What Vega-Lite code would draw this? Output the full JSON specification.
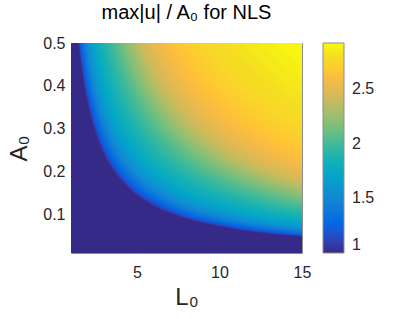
{
"$schema": "https://vega.github.io/schema/vega-lite/v6.json",
"width": 231, "height": 210,
"autosize": {"type": "none"},
"padding": {"left": 71, "top": 43, "right": 97, "bottom": 66},
"background": "white",
"title": {"text": "max|u| / A₀ for NLS", "fontSize": 20, "fontWeight": "normal", "font": "Liberation Sans", "color": "#000000", "anchor": "middle", "offset": -4, "baseline": "alphabetic"},
"data": {"values": [
{"v":1,"L":1,"A":0.01},{"v":1,"L":15,"A":0.01},
{"v":1.05,"L":1.44,"A":0.5},{"v":1.05,"L":1.728,"A":0.4167},{"v":1.05,"L":2.16,"A":0.3333},{"v":1.05,"L":2.88,"A":0.25},{"v":1.05,"L":3.6,"A":0.2},{"v":1.05,"L":4.32,"A":0.1667},{"v":1.05,"L":5.76,"A":0.125},{"v":1.05,"L":7.2,"A":0.1},{"v":1.05,"L":10.08,"A":0.0714},{"v":1.05,"L":14.4,"A":0.05},{"v":1.05,"L":15,"A":0.048},
{"v":1.1,"L":1.47,"A":0.5},{"v":1.1,"L":1.764,"A":0.4167},{"v":1.1,"L":2.205,"A":0.3333},{"v":1.1,"L":2.94,"A":0.25},{"v":1.1,"L":3.675,"A":0.2},{"v":1.1,"L":4.41,"A":0.1667},{"v":1.1,"L":5.88,"A":0.125},{"v":1.1,"L":7.35,"A":0.1},{"v":1.1,"L":10.29,"A":0.0714},{"v":1.1,"L":14.7,"A":0.05},{"v":1.1,"L":15,"A":0.049},
{"v":1.15,"L":1.5,"A":0.5},{"v":1.15,"L":1.8,"A":0.4167},{"v":1.15,"L":2.25,"A":0.3333},{"v":1.15,"L":3,"A":0.25},{"v":1.15,"L":3.75,"A":0.2},{"v":1.15,"L":4.5,"A":0.1667},{"v":1.15,"L":6,"A":0.125},{"v":1.15,"L":7.5,"A":0.1},{"v":1.15,"L":10.5,"A":0.0714},{"v":1.15,"L":15,"A":0.05},
{"v":1.2,"L":1.54,"A":0.5},{"v":1.2,"L":1.848,"A":0.4167},{"v":1.2,"L":2.31,"A":0.3333},{"v":1.2,"L":3.08,"A":0.25},{"v":1.2,"L":3.85,"A":0.2},{"v":1.2,"L":4.62,"A":0.1667},{"v":1.2,"L":6.16,"A":0.125},{"v":1.2,"L":7.7,"A":0.1},{"v":1.2,"L":10.78,"A":0.0714},{"v":1.2,"L":15,"A":0.0513},
{"v":1.25,"L":1.58,"A":0.5},{"v":1.25,"L":1.896,"A":0.4167},{"v":1.25,"L":2.37,"A":0.3333},{"v":1.25,"L":3.16,"A":0.25},{"v":1.25,"L":3.95,"A":0.2},{"v":1.25,"L":4.74,"A":0.1667},{"v":1.25,"L":6.32,"A":0.125},{"v":1.25,"L":7.9,"A":0.1},{"v":1.25,"L":11.06,"A":0.0714},{"v":1.25,"L":15,"A":0.0527},
{"v":1.3,"L":1.63,"A":0.5},{"v":1.3,"L":1.956,"A":0.4167},{"v":1.3,"L":2.445,"A":0.3333},{"v":1.3,"L":3.26,"A":0.25},{"v":1.3,"L":4.075,"A":0.2},{"v":1.3,"L":4.89,"A":0.1667},{"v":1.3,"L":6.52,"A":0.125},{"v":1.3,"L":8.15,"A":0.1},{"v":1.3,"L":11.41,"A":0.0714},{"v":1.3,"L":15,"A":0.0543},
{"v":1.35,"L":1.68,"A":0.5},{"v":1.35,"L":2.016,"A":0.4167},{"v":1.35,"L":2.52,"A":0.3333},{"v":1.35,"L":3.36,"A":0.25},{"v":1.35,"L":4.2,"A":0.2},{"v":1.35,"L":5.04,"A":0.1667},{"v":1.35,"L":6.72,"A":0.125},{"v":1.35,"L":8.4,"A":0.1},{"v":1.35,"L":11.76,"A":0.0714},{"v":1.35,"L":15,"A":0.056},
{"v":1.4,"L":1.74,"A":0.5},{"v":1.4,"L":2.088,"A":0.4167},{"v":1.4,"L":2.61,"A":0.3333},{"v":1.4,"L":3.48,"A":0.25},{"v":1.4,"L":4.35,"A":0.2},{"v":1.4,"L":5.22,"A":0.1667},{"v":1.4,"L":6.96,"A":0.125},{"v":1.4,"L":8.7,"A":0.1},{"v":1.4,"L":12.18,"A":0.0714},{"v":1.4,"L":15,"A":0.058},
{"v":1.45,"L":1.81,"A":0.5},{"v":1.45,"L":2.172,"A":0.4167},{"v":1.45,"L":2.715,"A":0.3333},{"v":1.45,"L":3.62,"A":0.25},{"v":1.45,"L":4.525,"A":0.2},{"v":1.45,"L":5.43,"A":0.1667},{"v":1.45,"L":7.24,"A":0.125},{"v":1.45,"L":9.05,"A":0.1},{"v":1.45,"L":12.67,"A":0.0714},{"v":1.45,"L":15,"A":0.0603},
{"v":1.5,"L":1.88,"A":0.5},{"v":1.5,"L":2.256,"A":0.4167},{"v":1.5,"L":2.82,"A":0.3333},{"v":1.5,"L":3.76,"A":0.25},{"v":1.5,"L":4.7,"A":0.2},{"v":1.5,"L":5.64,"A":0.1667},{"v":1.5,"L":7.52,"A":0.125},{"v":1.5,"L":9.4,"A":0.1},{"v":1.5,"L":13.16,"A":0.0714},{"v":1.5,"L":15,"A":0.0627},
{"v":1.525,"L":1.92,"A":0.5},{"v":1.525,"L":2.304,"A":0.4167},{"v":1.525,"L":2.88,"A":0.3333},{"v":1.525,"L":3.84,"A":0.25},{"v":1.525,"L":4.8,"A":0.2},{"v":1.525,"L":5.76,"A":0.1667},{"v":1.525,"L":7.68,"A":0.125},{"v":1.525,"L":9.6,"A":0.1},{"v":1.525,"L":13.44,"A":0.0714},{"v":1.525,"L":15,"A":0.064},
{"v":1.55,"L":1.96,"A":0.5},{"v":1.55,"L":2.352,"A":0.4167},{"v":1.55,"L":2.94,"A":0.3333},{"v":1.55,"L":3.92,"A":0.25},{"v":1.55,"L":4.9,"A":0.2},{"v":1.55,"L":5.88,"A":0.1667},{"v":1.55,"L":7.84,"A":0.125},{"v":1.55,"L":9.8,"A":0.1},{"v":1.55,"L":13.72,"A":0.0714},{"v":1.55,"L":15,"A":0.0653},
{"v":1.575,"L":2.01,"A":0.5},{"v":1.575,"L":2.412,"A":0.4167},{"v":1.575,"L":3.015,"A":0.3333},{"v":1.575,"L":4.02,"A":0.25},{"v":1.575,"L":5.025,"A":0.2},{"v":1.575,"L":6.03,"A":0.1667},{"v":1.575,"L":8.04,"A":0.125},{"v":1.575,"L":10.05,"A":0.1},{"v":1.575,"L":14.07,"A":0.0714},{"v":1.575,"L":15,"A":0.067},
{"v":1.6,"L":2.06,"A":0.5},{"v":1.6,"L":2.472,"A":0.4167},{"v":1.6,"L":3.09,"A":0.3333},{"v":1.6,"L":4.12,"A":0.25},{"v":1.6,"L":5.15,"A":0.2},{"v":1.6,"L":6.18,"A":0.1667},{"v":1.6,"L":8.24,"A":0.125},{"v":1.6,"L":10.3,"A":0.1},{"v":1.6,"L":14.42,"A":0.0714},{"v":1.6,"L":15,"A":0.0687},
{"v":1.625,"L":2.115,"A":0.5},{"v":1.625,"L":2.538,"A":0.4167},{"v":1.625,"L":3.1725,"A":0.3333},{"v":1.625,"L":4.23,"A":0.25},{"v":1.625,"L":5.2875,"A":0.2},{"v":1.625,"L":6.345,"A":0.1667},{"v":1.625,"L":8.46,"A":0.125},{"v":1.625,"L":10.575,"A":0.1},{"v":1.625,"L":15,"A":0.0705},
{"v":1.65,"L":2.17,"A":0.5},{"v":1.65,"L":2.604,"A":0.4167},{"v":1.65,"L":3.255,"A":0.3333},{"v":1.65,"L":4.34,"A":0.25},{"v":1.65,"L":5.425,"A":0.2},{"v":1.65,"L":6.51,"A":0.1667},{"v":1.65,"L":8.68,"A":0.125},{"v":1.65,"L":10.85,"A":0.1},{"v":1.65,"L":15,"A":0.0723},
{"v":1.675,"L":2.235,"A":0.5},{"v":1.675,"L":2.682,"A":0.4167},{"v":1.675,"L":3.3525,"A":0.3333},{"v":1.675,"L":4.47,"A":0.25},{"v":1.675,"L":5.5875,"A":0.2},{"v":1.675,"L":6.705,"A":0.1667},{"v":1.675,"L":8.94,"A":0.125},{"v":1.675,"L":11.175,"A":0.1},{"v":1.675,"L":15,"A":0.0745},
{"v":1.7,"L":2.3,"A":0.5},{"v":1.7,"L":2.76,"A":0.4167},{"v":1.7,"L":3.45,"A":0.3333},{"v":1.7,"L":4.6,"A":0.25},{"v":1.7,"L":5.75,"A":0.2},{"v":1.7,"L":6.9,"A":0.1667},{"v":1.7,"L":9.2,"A":0.125},{"v":1.7,"L":11.5,"A":0.1},{"v":1.7,"L":15,"A":0.0767},
{"v":1.725,"L":2.37,"A":0.5},{"v":1.725,"L":2.844,"A":0.4167},{"v":1.725,"L":3.555,"A":0.3333},{"v":1.725,"L":4.74,"A":0.25},{"v":1.725,"L":5.925,"A":0.2},{"v":1.725,"L":7.11,"A":0.1667},{"v":1.725,"L":9.48,"A":0.125},{"v":1.725,"L":11.85,"A":0.1},{"v":1.725,"L":15,"A":0.079},
{"v":1.75,"L":2.44,"A":0.5},{"v":1.75,"L":2.928,"A":0.4167},{"v":1.75,"L":3.66,"A":0.3333},{"v":1.75,"L":4.88,"A":0.25},{"v":1.75,"L":6.1,"A":0.2},{"v":1.75,"L":7.32,"A":0.1667},{"v":1.75,"L":9.76,"A":0.125},{"v":1.75,"L":12.2,"A":0.1},{"v":1.75,"L":15,"A":0.0813},
{"v":1.775,"L":2.52,"A":0.5},{"v":1.775,"L":3.024,"A":0.4167},{"v":1.775,"L":3.78,"A":0.3333},{"v":1.775,"L":5.04,"A":0.25},{"v":1.775,"L":6.3,"A":0.2},{"v":1.775,"L":7.56,"A":0.1667},{"v":1.775,"L":10.08,"A":0.125},{"v":1.775,"L":12.6,"A":0.1},{"v":1.775,"L":15,"A":0.084},
{"v":1.8,"L":2.6,"A":0.5},{"v":1.8,"L":3.12,"A":0.4167},{"v":1.8,"L":3.9,"A":0.3333},{"v":1.8,"L":5.2,"A":0.25},{"v":1.8,"L":6.5,"A":0.2},{"v":1.8,"L":7.8,"A":0.1667},{"v":1.8,"L":10.4,"A":0.125},{"v":1.8,"L":13,"A":0.1},{"v":1.8,"L":15,"A":0.0867},
{"v":1.825,"L":2.69,"A":0.5},{"v":1.825,"L":3.228,"A":0.4167},{"v":1.825,"L":4.035,"A":0.3333},{"v":1.825,"L":5.38,"A":0.25},{"v":1.825,"L":6.725,"A":0.2},{"v":1.825,"L":8.07,"A":0.1667},{"v":1.825,"L":10.76,"A":0.125},{"v":1.825,"L":13.45,"A":0.1},{"v":1.825,"L":15,"A":0.0897},
{"v":1.85,"L":2.78,"A":0.5},{"v":1.85,"L":3.336,"A":0.4167},{"v":1.85,"L":4.17,"A":0.3333},{"v":1.85,"L":5.56,"A":0.25},{"v":1.85,"L":6.95,"A":0.2},{"v":1.85,"L":8.34,"A":0.1667},{"v":1.85,"L":11.12,"A":0.125},{"v":1.85,"L":13.9,"A":0.1},{"v":1.85,"L":15,"A":0.0927},
{"v":1.875,"L":2.88,"A":0.5},{"v":1.875,"L":3.456,"A":0.4167},{"v":1.875,"L":4.32,"A":0.3333},{"v":1.875,"L":5.76,"A":0.25},{"v":1.875,"L":7.2,"A":0.2},{"v":1.875,"L":8.64,"A":0.1667},{"v":1.875,"L":11.52,"A":0.125},{"v":1.875,"L":14.4,"A":0.1},{"v":1.875,"L":15,"A":0.096},
{"v":1.9,"L":2.98,"A":0.5},{"v":1.9,"L":3.576,"A":0.4167},{"v":1.9,"L":4.47,"A":0.3333},{"v":1.9,"L":5.96,"A":0.25},{"v":1.9,"L":7.45,"A":0.2},{"v":1.9,"L":8.94,"A":0.1667},{"v":1.9,"L":11.92,"A":0.125},{"v":1.9,"L":15,"A":0.0993},
{"v":1.925,"L":3.09,"A":0.5},{"v":1.925,"L":3.708,"A":0.4167},{"v":1.925,"L":4.635,"A":0.3333},{"v":1.925,"L":6.18,"A":0.25},{"v":1.925,"L":7.725,"A":0.2},{"v":1.925,"L":9.27,"A":0.1667},{"v":1.925,"L":12.36,"A":0.125},{"v":1.925,"L":15,"A":0.103},
{"v":1.95,"L":3.2,"A":0.5},{"v":1.95,"L":3.84,"A":0.4167},{"v":1.95,"L":4.8,"A":0.3333},{"v":1.95,"L":6.4,"A":0.25},{"v":1.95,"L":8,"A":0.2},{"v":1.95,"L":9.6,"A":0.1667},{"v":1.95,"L":12.8,"A":0.125},{"v":1.95,"L":15,"A":0.1067},
{"v":1.975,"L":3.31,"A":0.5},{"v":1.975,"L":3.972,"A":0.4167},{"v":1.975,"L":4.965,"A":0.3333},{"v":1.975,"L":6.62,"A":0.25},{"v":1.975,"L":8.275,"A":0.2},{"v":1.975,"L":9.93,"A":0.1667},{"v":1.975,"L":13.24,"A":0.125},{"v":1.975,"L":15,"A":0.1103},
{"v":2.0,"L":3.42,"A":0.5},{"v":2.0,"L":4.104,"A":0.4167},{"v":2.0,"L":5.13,"A":0.3333},{"v":2.0,"L":6.84,"A":0.25},{"v":2.0,"L":8.55,"A":0.2},{"v":2.0,"L":10.26,"A":0.1667},{"v":2.0,"L":13.68,"A":0.125},{"v":2.0,"L":15,"A":0.114},
{"v":2.025,"L":3.53,"A":0.5},{"v":2.025,"L":4.236,"A":0.4167},{"v":2.025,"L":5.295,"A":0.3333},{"v":2.025,"L":7.06,"A":0.25},{"v":2.025,"L":8.825,"A":0.2},{"v":2.025,"L":10.59,"A":0.1667},{"v":2.025,"L":14.12,"A":0.125},{"v":2.025,"L":15,"A":0.1177},
{"v":2.05,"L":3.64,"A":0.5},{"v":2.05,"L":4.368,"A":0.4167},{"v":2.05,"L":5.46,"A":0.3333},{"v":2.05,"L":7.28,"A":0.25},{"v":2.05,"L":9.1,"A":0.2},{"v":2.05,"L":10.92,"A":0.1667},{"v":2.05,"L":14.56,"A":0.125},{"v":2.05,"L":15,"A":0.1213},
{"v":2.075,"L":3.75,"A":0.5},{"v":2.075,"L":4.5,"A":0.4167},{"v":2.075,"L":5.625,"A":0.3333},{"v":2.075,"L":7.5,"A":0.25},{"v":2.075,"L":9.375,"A":0.2},{"v":2.075,"L":11.25,"A":0.1667},{"v":2.075,"L":15,"A":0.125},
{"v":2.1,"L":3.86,"A":0.5},{"v":2.1,"L":4.632,"A":0.4167},{"v":2.1,"L":5.79,"A":0.3333},{"v":2.1,"L":7.72,"A":0.25},{"v":2.1,"L":9.65,"A":0.2},{"v":2.1,"L":11.58,"A":0.1667},{"v":2.1,"L":15,"A":0.1287},
{"v":2.125,"L":3.97,"A":0.5},{"v":2.125,"L":4.764,"A":0.4167},{"v":2.125,"L":5.955,"A":0.3333},{"v":2.125,"L":7.94,"A":0.25},{"v":2.125,"L":9.925,"A":0.2},{"v":2.125,"L":11.91,"A":0.1667},{"v":2.125,"L":15,"A":0.1323},
{"v":2.15,"L":4.08,"A":0.5},{"v":2.15,"L":4.896,"A":0.4167},{"v":2.15,"L":6.12,"A":0.3333},{"v":2.15,"L":8.16,"A":0.25},{"v":2.15,"L":10.2,"A":0.2},{"v":2.15,"L":12.24,"A":0.1667},{"v":2.15,"L":15,"A":0.136},
{"v":2.175,"L":4.19,"A":0.5},{"v":2.175,"L":5.028,"A":0.4167},{"v":2.175,"L":6.285,"A":0.3333},{"v":2.175,"L":8.38,"A":0.25},{"v":2.175,"L":10.475,"A":0.2},{"v":2.175,"L":12.57,"A":0.1667},{"v":2.175,"L":15,"A":0.1397},
{"v":2.2,"L":4.3,"A":0.5},{"v":2.2,"L":5.16,"A":0.4167},{"v":2.2,"L":6.45,"A":0.3333},{"v":2.2,"L":8.6,"A":0.25},{"v":2.2,"L":10.75,"A":0.2},{"v":2.2,"L":12.9,"A":0.1667},{"v":2.2,"L":15,"A":0.1433},
{"v":2.225,"L":4.4,"A":0.5},{"v":2.225,"L":5.28,"A":0.4167},{"v":2.225,"L":6.6,"A":0.3333},{"v":2.225,"L":8.8,"A":0.25},{"v":2.225,"L":11,"A":0.2},{"v":2.225,"L":13.2,"A":0.1667},{"v":2.225,"L":15,"A":0.1467},
{"v":2.25,"L":4.5,"A":0.5},{"v":2.25,"L":5.4,"A":0.4167},{"v":2.25,"L":6.75,"A":0.3333},{"v":2.25,"L":9,"A":0.25},{"v":2.25,"L":11.25,"A":0.2},{"v":2.25,"L":13.5,"A":0.1667},{"v":2.25,"L":15,"A":0.15},
{"v":2.275,"L":4.6,"A":0.5},{"v":2.275,"L":5.52,"A":0.4167},{"v":2.275,"L":6.9,"A":0.3333},{"v":2.275,"L":9.2,"A":0.25},{"v":2.275,"L":11.5,"A":0.2},{"v":2.275,"L":13.8,"A":0.1667},{"v":2.275,"L":15,"A":0.1533},
{"v":2.3,"L":4.7,"A":0.5},{"v":2.3,"L":5.64,"A":0.4167},{"v":2.3,"L":7.05,"A":0.3333},{"v":2.3,"L":9.4,"A":0.25},{"v":2.3,"L":11.75,"A":0.2},{"v":2.3,"L":14.1,"A":0.1667},{"v":2.3,"L":15,"A":0.1567},
{"v":2.325,"L":4.8,"A":0.5},{"v":2.325,"L":5.76,"A":0.4167},{"v":2.325,"L":7.2,"A":0.3333},{"v":2.325,"L":9.6,"A":0.25},{"v":2.325,"L":12,"A":0.2},{"v":2.325,"L":14.4,"A":0.1667},{"v":2.325,"L":15,"A":0.16},
{"v":2.35,"L":4.9,"A":0.5},{"v":2.35,"L":5.88,"A":0.4167},{"v":2.35,"L":7.35,"A":0.3333},{"v":2.35,"L":9.8,"A":0.25},{"v":2.35,"L":12.25,"A":0.2},{"v":2.35,"L":14.7,"A":0.1667},{"v":2.35,"L":15,"A":0.1633},
{"v":2.375,"L":5,"A":0.5},{"v":2.375,"L":6,"A":0.4167},{"v":2.375,"L":7.5,"A":0.3333},{"v":2.375,"L":10,"A":0.25},{"v":2.375,"L":12.5,"A":0.2},{"v":2.375,"L":15,"A":0.1667},
{"v":2.4,"L":5.1,"A":0.5},{"v":2.4,"L":6.12,"A":0.4167},{"v":2.4,"L":7.65,"A":0.3333},{"v":2.4,"L":10.2,"A":0.25},{"v":2.4,"L":12.75,"A":0.2},{"v":2.4,"L":15,"A":0.17},
{"v":2.425,"L":5.24,"A":0.5},{"v":2.425,"L":6.288,"A":0.4167},{"v":2.425,"L":7.86,"A":0.3333},{"v":2.425,"L":10.48,"A":0.25},{"v":2.425,"L":13.1,"A":0.2},{"v":2.425,"L":15,"A":0.1747},
{"v":2.45,"L":5.38,"A":0.5},{"v":2.45,"L":6.456,"A":0.4167},{"v":2.45,"L":8.07,"A":0.3333},{"v":2.45,"L":10.76,"A":0.25},{"v":2.45,"L":13.45,"A":0.2},{"v":2.45,"L":15,"A":0.1793},
{"v":2.475,"L":5.54,"A":0.5},{"v":2.475,"L":6.648,"A":0.4167},{"v":2.475,"L":8.31,"A":0.3333},{"v":2.475,"L":11.08,"A":0.25},{"v":2.475,"L":13.85,"A":0.2},{"v":2.475,"L":15,"A":0.1847},
{"v":2.5,"L":5.7,"A":0.5},{"v":2.5,"L":6.84,"A":0.4167},{"v":2.5,"L":8.55,"A":0.3333},{"v":2.5,"L":11.4,"A":0.25},{"v":2.5,"L":14.25,"A":0.2},{"v":2.5,"L":15,"A":0.19},
{"v":2.525,"L":5.91,"A":0.5},{"v":2.525,"L":7.092,"A":0.4167},{"v":2.525,"L":8.865,"A":0.3333},{"v":2.525,"L":11.82,"A":0.25},{"v":2.525,"L":15,"A":0.197},
{"v":2.55,"L":6.12,"A":0.5},{"v":2.55,"L":7.344,"A":0.4167},{"v":2.55,"L":9.18,"A":0.3333},{"v":2.55,"L":12.24,"A":0.25},{"v":2.55,"L":15,"A":0.204},
{"v":2.575,"L":6.36,"A":0.5},{"v":2.575,"L":7.632,"A":0.4167},{"v":2.575,"L":9.54,"A":0.3333},{"v":2.575,"L":12.72,"A":0.25},{"v":2.575,"L":15,"A":0.212},
{"v":2.6,"L":6.6,"A":0.5},{"v":2.6,"L":7.92,"A":0.4167},{"v":2.6,"L":9.9,"A":0.3333},{"v":2.6,"L":13.2,"A":0.25},{"v":2.6,"L":15,"A":0.22},
{"v":2.625,"L":6.9,"A":0.5},{"v":2.625,"L":8.28,"A":0.4167},{"v":2.625,"L":10.35,"A":0.3333},{"v":2.625,"L":13.8,"A":0.25},{"v":2.625,"L":15,"A":0.23},
{"v":2.65,"L":7.2,"A":0.5},{"v":2.65,"L":8.64,"A":0.4167},{"v":2.65,"L":10.8,"A":0.3333},{"v":2.65,"L":14.4,"A":0.25},{"v":2.65,"L":15,"A":0.24},
{"v":2.675,"L":7.55,"A":0.5},{"v":2.675,"L":9.06,"A":0.4167},{"v":2.675,"L":11.325,"A":0.3333},{"v":2.675,"L":15,"A":0.2517},
{"v":2.7,"L":7.9,"A":0.5},{"v":2.7,"L":9.48,"A":0.4167},{"v":2.7,"L":11.85,"A":0.3333},{"v":2.7,"L":15,"A":0.2633},
{"v":2.725,"L":8.35,"A":0.5},{"v":2.725,"L":10.02,"A":0.4167},{"v":2.725,"L":12.525,"A":0.3333},{"v":2.725,"L":15,"A":0.2783},
{"v":2.75,"L":8.8,"A":0.5},{"v":2.75,"L":10.56,"A":0.4167},{"v":2.75,"L":13.2,"A":0.3333},{"v":2.75,"L":15,"A":0.2933},
{"v":2.775,"L":9.4,"A":0.5},{"v":2.775,"L":11.28,"A":0.4167},{"v":2.775,"L":14.1,"A":0.3333},{"v":2.775,"L":15,"A":0.3133},
{"v":2.8,"L":10,"A":0.5},{"v":2.8,"L":12,"A":0.4167},{"v":2.8,"L":15,"A":0.3333},
{"v":2.825,"L":10.7,"A":0.5},{"v":2.825,"L":12.84,"A":0.4167},{"v":2.825,"L":15,"A":0.3567},
{"v":2.85,"L":11.4,"A":0.5},{"v":2.85,"L":13.68,"A":0.4167},{"v":2.85,"L":15,"A":0.38},
{"v":2.875,"L":12.4,"A":0.5},{"v":2.875,"L":13.6,"A":0.4559},{"v":2.875,"L":15,"A":0.4133},
{"v":2.9,"L":13.4,"A":0.5},{"v":2.9,"L":14.2,"A":0.4718},{"v":2.9,"L":15,"A":0.4467}
]},
"mark": {"type": "area", "interpolate": "monotone", "clip": true, "opacity": 1, "fillOpacity": 1},
"encoding": {
  "x": {"field": "L", "type": "quantitative", "scale": {"domain": [1, 15], "nice": false, "zero": false},
        "axis": {"values": [5, 10, 15], "title": "L₀", "ticks": false, "domain": false, "grid": false, "labelFlush": false, "labelFontSize": 16, "labelPadding": 11, "titleFontSize": 24, "titlePadding": 5}},
  "y": {"field": "A", "type": "quantitative", "stack": null, "scale": {"domain": [0.01, 0.5], "nice": false, "zero": false},
        "axis": {"values": [0.1, 0.2, 0.3, 0.4, 0.5], "format": ".1f", "title": "A₀", "ticks": false, "domain": false, "grid": false, "labelFontSize": 16, "labelPadding": 6, "titleFontSize": 24, "titlePadding": 11}},
  "y2": {"datum": 0.5},
  "fill": {"field": "v", "type": "quantitative",
     "scale": {"domain": [1, 1.0914, 1.1829, 1.2133, 1.3048, 1.4267, 1.5486, 1.64, 1.7314, 1.8533, 1.9752, 2.0667, 2.1581, 2.28, 2.3714, 2.4933, 2.5848, 2.6457, 2.7067, 2.7981, 2.859, 2.92],
               "range": ["#352a87", "#353dad", "#2053d4", "#0f5cdd", "#046de0", "#127dd8", "#108ed2", "#079ccf", "#06a7c6", "#15b1b4", "#38b99e", "#59bd8c", "#7cbf7b", "#a5be6b", "#c0bc60", "#e1b952", "#f8bb44", "#ffc337", "#fcce2e", "#f5de21", "#f5eb18", "#f9fb0e"],
               "interpolate": "rgb"},
     "legend": {"orient": "none", "legendX": 252, "legendY": 0, "direction": "vertical", "title": null, "gradientLength": 210, "gradientThickness": 21, "values": [1, 1.5, 2, 2.5], "format": "~g", "labelFontSize": 16, "labelOffset": 8, "labelColor": "#262626", "gradientStrokeColor": "#8c8c8c", "gradientStrokeWidth": 1, "padding": 0}}
},
"config": {
  "font": "Liberation Sans",
  "view": {"stroke": "#8c8c8c", "strokeWidth": 1},
  "axis": {"labelColor": "#262626", "titleColor": "#262626", "titleFontWeight": "normal", "labelFont": "Liberation Sans", "titleFont": "Liberation Sans"},
  "legend": {"labelFont": "Liberation Sans"}
}
}
